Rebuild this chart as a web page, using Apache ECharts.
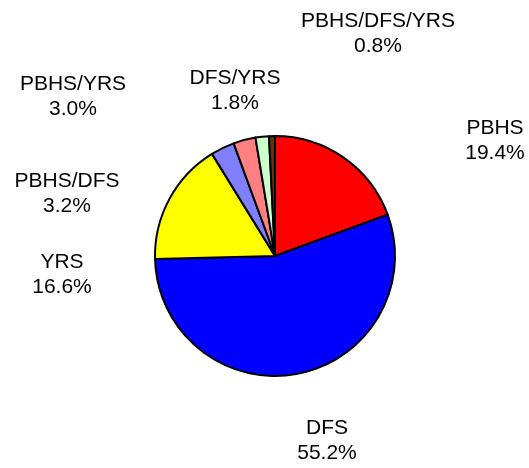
<!DOCTYPE html>
<html>
<head>
<meta charset="utf-8">
<script src="https://cdn.jsdelivr.net/npm/echarts@6/dist/echarts.min.js"></script>
<style>
html, body { margin: 0; padding: 0; background: #fff; }
#chart { width: 529px; height: 468px; }
</style>
</head>
<body>
<div id="chart"></div>
<script>
// groups and their shares (%)
var names = ['PBHS', 'DFS', 'YRS', 'PBHS/DFS', 'PBHS/YRS', 'DFS/YRS', 'PBHS/DFS/YRS'];
var shares = [19.4, 55.2, 16.6, 3.2, 3.0, 1.8, 0.8];
var colors = ['#FF0000', '#0000FF', '#FFFF00', '#8080FF', '#FF8080', '#CCFFCC', '#663300'];

// where each label sits (centre of the text block)
var labelPos = [[495, 141], [327, 441], [62, 275], [67, 194], [73, 97], [235, 91], [378, 34]];

var chart = echarts.init(document.getElementById('chart'));

var pieData = names.map(function(n, i) {
	return { name: n, value: shares[i], itemStyle: { color: colors[i] } };
});

chart.setOption({
	animation: false,
	backgroundColor: '#fff',
	series: [{
		type: 'pie',
		center: [275, 256],
		radius: 120,
		startAngle: 90,
		clockwise: true,
		data: pieData,
		itemStyle: {
			borderColor: '#000',
			borderWidth: 2
		},
		label: {
			show: true,
			position: 'outside',
			overflow: 'none',
			edgeDistance: 0,
			formatter: function(p) { return p.name + '\n' + p.value.toFixed(1) + '%'; },
			fontFamily: 'Liberation Sans, Arial, sans-serif',
			fontSize: 21,
			lineHeight: 25,
			color: '#000',
			align: 'center'
		},
		labelLine: { show: false },
		labelLayout: function(params) {
			var p = labelPos[params.dataIndex];
			return { x: p[0], y: p[1], align: 'center', verticalAlign: 'middle' };
		},
		emphasis: { disabled: true }
	}]
});
</script>
</body>
</html>
